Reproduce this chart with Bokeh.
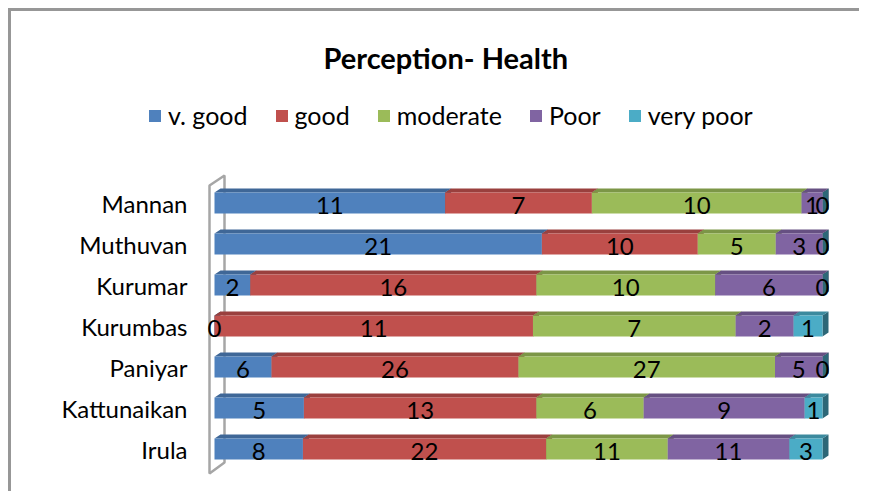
from bokeh.plotting import figure
from bokeh.models import Range1d, FixedTicker, Legend, LegendItem, ColumnDataSource, Title
from bokeh.core.properties import value
from bokeh.embed import file_html
from bokeh.resources import INLINE

# ---- data (top to bottom as in the chart) ----
groups = ["Mannan", "Muthuvan", "Kurumar", "Kurumbas", "Paniyar", "Kattunaikan", "Irula"]
series = ["v. good", "good", "moderate", "Poor", "very poor"]
v_good = [11, 21, 2, 0, 6, 5, 8]
good = [7, 10, 16, 11, 26, 13, 22]
moderate = [10, 5, 10, 7, 27, 6, 11]
poor = [1, 3, 6, 2, 5, 9, 11]
very_poor = [0, 0, 0, 1, 0, 1, 3]

front_colors = ["#4F81BD", "#C0504D", "#9BBB59", "#8064A2", "#4BACC6"]
top_colors = ["#3F6797", "#9A403E", "#7C9647", "#665082", "#3C8A9E"]
side_colors = ["#2F4D71", "#73302E", "#5D7035", "#4D3C62", "#2D6777"]

# ---- layout constants (page pixels) ----
OX, OY = 11, 11                  # figure content origin on page
W, H = 851, 483
pf_l, pf_r, pf_t, pf_b = 140, 840, 100, 490   # frame on page
x0px, x1px = 214, 822            # where 0 and 1 (100%) fall
row0px, step = 448.5, 41.0       # Irula centre and row spacing
bar_h = 21 / step
dx = 6 / (x1px - x0px)
dy = 4 / step

def xdata(px):
    return (px - x0px) / (x1px - x0px)

def ydata(px):
    return (row0px - px) / step

n = len(groups)
rows = list(range(n))[::-1]  # Mannan at top
all_vals = [v_good, good, moderate, poor, very_poor]
totals = [sum(s[i] for s in all_vals) for i in range(n)]

p = figure(width=W, height=H, output_backend="svg", toolbar_location=None,
           x_range=Range1d(xdata(pf_l), xdata(pf_r)),
           y_range=Range1d(ydata(pf_b), ydata(pf_t)),
           min_border_left=pf_l - OX, min_border_right=W - (pf_r - OX),
           min_border_top=pf_t - OY, min_border_bottom=H - (pf_b - OY),
           title=None)
p.styles = {"border-top": "3px solid #979797", "border-left": "3px solid #979797",
            "margin-left": "8px", "margin-top": "8px"}
p.outline_line_color = None
p.background_fill_color = "white"
p.border_fill_color = "white"
p.xgrid.visible = False
p.ygrid.visible = False
p.xaxis.visible = False

yaxis = p.yaxis[0]
yaxis.ticker = FixedTicker(ticks=rows)
yaxis.major_label_overrides = {r: g for r, g in zip(rows, groups)}
yaxis.axis_line_color = None
yaxis.major_tick_line_color = None
yaxis.minor_tick_line_color = None
yaxis.major_tick_out = 0
yaxis.major_tick_in = 0
yaxis.major_label_standoff = pf_l - 187
yaxis.major_label_text_font = "Lato"
yaxis.major_label_text_font_size = "24px"
yaxis.major_label_text_color = "#000000"

# ---- 3D side wall ----
wall_x = [xdata(209), xdata(209), xdata(224), xdata(224)]
wall_y = [ydata(473), ydata(185), ydata(175), ydata(462)]
p.patch(wall_x, wall_y, fill_color=None, line_color="#A6A6A6", line_width=2.5)

# ---- compute segments ----
lefts, rights = [], []
for s_idx in range(len(series)):
    l, r = [], []
    for i in range(n):
        before = sum(all_vals[k][i] for k in range(s_idx))
        l.append(before / totals[i])
        r.append((before + all_vals[s_idx][i]) / totals[i])
    lefts.append(l)
    rights.append(r)

# side faces
for s_idx in range(len(series)):
    xs, ys = [], []
    for i in range(n):
        x1 = rights[s_idx][i]
        yb, yt = rows[i] - bar_h / 2, rows[i] + bar_h / 2
        xs.append([x1, x1, x1 + dx, x1 + dx])
        ys.append([yb, yt, yt + dy, yb + dy])
    p.patches(xs, ys, fill_color=side_colors[s_idx], line_color=None)

# top faces
for s_idx in range(len(series)):
    xs, ys = [], []
    for i in range(n):
        xa, xb = lefts[s_idx][i], rights[s_idx][i]
        yt = rows[i] + bar_h / 2
        xs.append([xa, xb, xb + dx, xa + dx])
        ys.append([yt, yt, yt + dy, yt + dy])
    p.patches(xs, ys, fill_color=top_colors[s_idx], line_color=None)

# front faces
items = []
sources = []
for s_idx, name in enumerate(series):
    src = ColumnDataSource(dict(
        y=rows, left=lefts[s_idx], right=rights[s_idx],
        mid=[(a + b) / 2 for a, b in zip(lefts[s_idx], rights[s_idx])],
        lab=[str(v) for v in all_vals[s_idx]]))
    sources.append(src)
    r = p.hbar(y="y", left="left", right="right", height=bar_h, source=src,
               fill_color=front_colors[s_idx], line_color=None)
    items.append(LegendItem(label=name, renderers=[r]))

# data labels (on top of every bar)
for src in sources:
    p.text(x="mid", y="y", text="lab", source=src, text_align="center",
           text_baseline="middle", text_font=value("Lato"), text_font_size="24px",
           text_color="#000000", y_offset=2)

legend = Legend(items=items, orientation="horizontal", location=(147 - pf_l, pf_b - 130),
                glyph_width=15, glyph_height=15, label_standoff=6, spacing=26,
                padding=0, margin=0, border_line_color=None, background_fill_alpha=0,
                label_text_font="Lato", label_text_font_size="25px",
                label_text_color="#000000")
p.add_layout(legend)

title = Title(text="Perception- Health", align="left", offset=323 - pf_l,
              text_font="Lato", text_font_size="29px", text_font_style="bold",
              text_color="#000000", standoff=52)
p.add_layout(title, "above")

open("out.html", "w").write(file_html(p, INLINE))
